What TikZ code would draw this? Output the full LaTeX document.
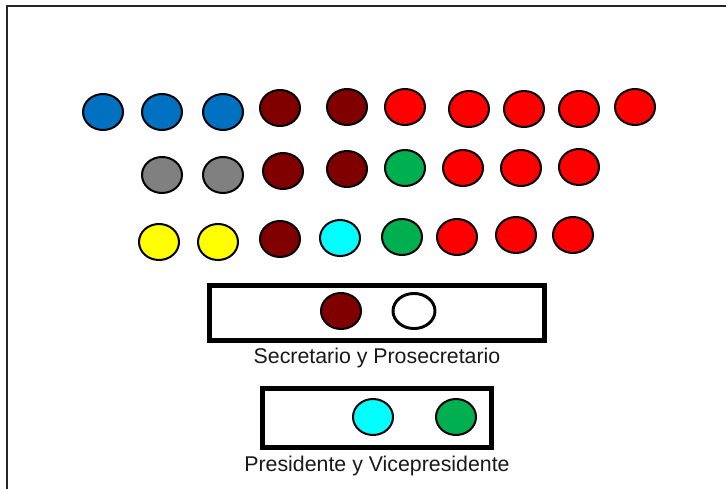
\documentclass[tikz,border=0pt]{standalone}
\usepackage{fontspec}
\setmainfont{Liberation Sans}
\usetikzlibrary{shapes.geometric}
\definecolor{cblue}{HTML}{0070C0}
\definecolor{cmaroon}{HTML}{800000}
\definecolor{cred}{HTML}{FF0000}
\definecolor{cgray}{HTML}{808080}
\definecolor{cyellow}{HTML}{FFFF00}
\definecolor{ccyan}{HTML}{00FFFF}
\definecolor{cgreen}{HTML}{00B050}
\begin{document}
\begin{tikzpicture}[x=0.75pt,y=-0.75pt,
  seat/.style={ellipse,draw=black,line width=1.5pt,minimum width=30pt,minimum height=27pt,inner sep=0pt},
  emptyseat/.style={ellipse,draw=black,fill=white,line width=2.2pt,minimum width=31.5pt,minimum height=26.3pt,inner sep=0pt},
  panel/.style={rectangle,draw=black,line width=3.75pt,inner sep=0pt},
  caption/.style={font=\fontsize{16pt}{18pt}\selectfont,text=black!90,inner sep=0pt,anchor=base}]
\useasboundingbox (0,0) rectangle (726,489);
\fill[white] (0,0) rectangle (726,489);
% frame
\coordinate (fbl) at (7,489);
\coordinate (ftl) at (7,6);
\coordinate (ftr) at (726,6);
\draw[line width=1.5pt,black!85] (fbl) -- (ftl) -- (ftr);
% row 1
\node[seat,fill=cblue] (a1) at (103,112) {};
\node[seat,fill=cblue] (a2) at (162,112) {};
\node[seat,fill=cblue] (a3) at (223,112) {};
\node[seat,fill=cmaroon] (a4) at (280,108) {};
\node[seat,fill=cmaroon] (a5) at (347,107) {};
\node[seat,fill=cred] (a6) at (405,107) {};
\node[seat,fill=cred] (a7) at (469,109) {};
\node[seat,fill=cred] (a8) at (524,109) {};
\node[seat,fill=cred] (a9) at (579,109) {};
\node[seat,fill=cred] (a10) at (635,107) {};
% row 2
\node[seat,fill=cgray] (b1) at (162,175) {};
\node[seat,fill=cgray] (b2) at (223,175) {};
\node[seat,fill=cmaroon] (b3) at (283,171) {};
\node[seat,fill=cmaroon] (b4) at (347,169) {};
\node[seat,fill=cgreen] (b5) at (405,168) {};
\node[seat,fill=cred] (b6) at (463,168) {};
\node[seat,fill=cred] (b7) at (521,168) {};
\node[seat,fill=cred] (b8) at (579,167) {};
% row 3
\node[seat,fill=cyellow] (c1) at (159,242) {};
\node[seat,fill=cyellow] (c2) at (218,242) {};
\node[seat,fill=cmaroon] (c3) at (280,239) {};
\node[seat,fill=ccyan] (c4) at (340,238) {};
\node[seat,fill=cgreen] (c5) at (402,237) {};
\node[seat,fill=cred] (c6) at (457,237) {};
\node[seat,fill=cred] (c7) at (516,235) {};
\node[seat,fill=cred] (c8) at (573,235) {};
% secretary panel
\node[panel,minimum width=250.6pt,minimum height=41.7pt] (sec) at (377,313) {};
\node[seat,fill=cmaroon] (s1) at (341,311) {};
\node[emptyseat] (s2) at (414,311) {};
\node[caption] (seclabel) at (377,363.5) {Secretario y Prosecretario};
% president panel
\node[panel,minimum width=171.4pt,minimum height=43.9pt] (pres) at (377,418) {};
\node[seat,fill=ccyan] (p1) at (373,417) {};
\node[seat,fill=cgreen] (p2) at (456,417) {};
\node[caption] (preslabel) at (377,471) {Presidente y Vicepresidente};
\end{tikzpicture}
\end{document}
